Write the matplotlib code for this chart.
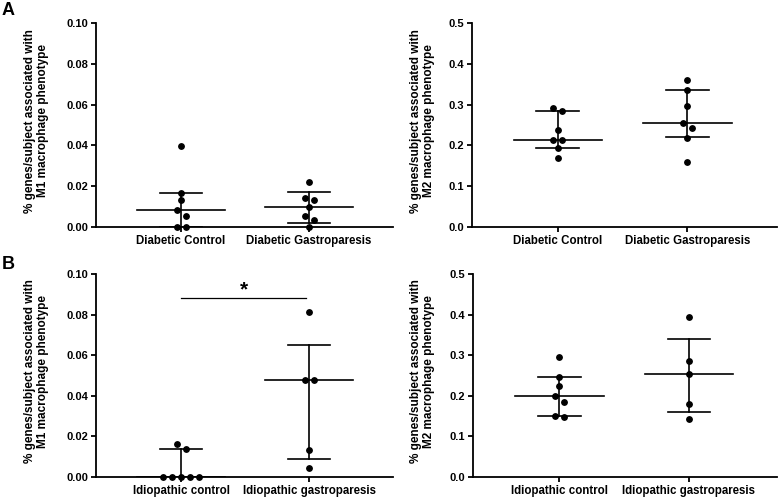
import numpy as np
import matplotlib.pyplot as plt

plt.rcParams['font.family'] = ['Liberation Sans', 'DejaVu Sans']
plt.rcParams['font.weight'] = 'bold'

groups_a = ['Diabetic Control', 'Diabetic Gastroparesis']
groups_b = ['Idiopathic control', 'Idiopathic gastroparesis']

# individual subjects
dc_m1 = [0.0396, 0.0167, 0.0134, 0.0082, 0.0052, 0.0, 0.0]
dg_m1 = [0.0221, 0.0141, 0.0131, 0.0098, 0.0052, 0.0033, 0.0]
dc_m2 = [0.2925, 0.2843, 0.2369, 0.2141, 0.2141, 0.1944, 0.1699]
dg_m2 = [0.3595, 0.3366, 0.2958, 0.2549, 0.2435, 0.2190, 0.1585]
ic_m1 = [0.0165, 0.0139, 0.0, 0.0, 0.0, 0.0, 0.0]
ig_m1 = [0.0813, 0.0480, 0.0480, 0.0131, 0.0046]
ic_m2 = [0.2946, 0.2455, 0.2234, 0.1989, 0.1850, 0.1514, 0.1473]
ig_m2 = [0.3944, 0.2864, 0.2537, 0.1800, 0.1424]

# centre line, lower and upper error bar as drawn
dc_m1_bar = [0.0082, 0.0, 0.0167]
dg_m1_bar = [0.0098, 0.0022, 0.0172]
dc_m2_bar = [0.2141, 0.1944, 0.2843]
dg_m2_bar = [0.2557, 0.2206, 0.3366]
ic_m1_bar = [0.0, 0.0, 0.0139]
ig_m1_bar = [0.0476, 0.0090, 0.0648]
ic_m2_bar = [0.1997, 0.1514, 0.2455]
ig_m2_bar = [0.2545, 0.1612, 0.3396]

m1_ticks = [0, 0.02, 0.04, 0.06, 0.08, 0.10]
m2_ticks = [0, 0.1, 0.2, 0.3, 0.4, 0.5]
sig_level = 0.088

fig = plt.figure(figsize=(7.78, 4.97), dpi=100)
W, H = 778, 497


def swarm_offsets(ax, vals):
    # group close points into rows and spread each row around the centre
    fig.canvas.draw()
    bb = ax.get_window_extent()
    py = bb.height / np.diff(ax.get_ylim())[0]
    px = bb.width / np.diff(ax.get_xlim())[0]
    d = 9.0
    order = np.argsort(vals)[::-1]
    rows = []
    for i in order:
        if rows and (vals[rows[-1][0]] - vals[i]) * py < 0.7 * d:
            rows[-1].append(i)
        else:
            rows.append([i])
    off = np.zeros(len(vals))
    for r in rows:
        n = len(r)
        for k, i in enumerate(sorted(r)):
            off[i] = (k - (n - 1) / 2) * d / px
    return off


def panel(box, names, data, bars, ticks, fmt, ylab, xlim, labx):
    l, r, top, bot = box
    ax = fig.add_axes([l / W, 1 - bot / H, (r - l) / W, (bot - top) / H])
    ax.set_xlim(*xlim)
    ax.set_ylim(ticks[0], ticks[-1])
    for s in ['top', 'right']:
        ax.spines[s].set_visible(False)
    for s in ['left', 'bottom']:
        ax.spines[s].set_linewidth(1.3)
    ax.set_yticks(ticks)
    ax.set_yticklabels([fmt.format(t) for t in ticks], fontsize=8, fontweight='bold')
    ax.set_xticks(range(len(names)))
    ax.set_xticklabels(names, fontsize=8.3, fontweight='bold')
    ax.tick_params(width=1.3, length=3.5, pad=2)
    ax.tick_params(axis='x', pad=2)
    ax.set_ylabel(ylab, fontsize=8.5, fontweight='bold', linespacing=1.1)
    ax.yaxis.set_label_coords((labx - l) / (r - l), 0.52)
    for x0, (vals, b) in enumerate(zip(data, bars)):
        vals = np.array(vals)
        off = swarm_offsets(ax, vals)
        ax.plot(x0 + off, vals, 'o', color='black', markersize=3.9,
                clip_on=False, zorder=3)
        ax.plot([x0 - 0.34, x0 + 0.34], [b[0], b[0]], color='black', lw=1.2)
        ax.plot([x0 - 0.165, x0 + 0.165], [b[1], b[1]], color='black', lw=1.2)
        ax.plot([x0 - 0.165, x0 + 0.165], [b[2], b[2]], color='black', lw=1.2)
        ax.plot([x0, x0], [b[1], b[2]], color='black', lw=1.2)
    return ax


lab1 = '% genes/subject associated with\nM1 macrophage phenotype'
lab2 = '% genes/subject associated with\nM2 macrophage phenotype'

panel((96, 393, 23, 227), groups_a, [dc_m1, dg_m1], [dc_m1_bar, dg_m1_bar],
      m1_ticks, '{:.2f}', lab1, (-0.664, 1.656), 49)
panel((472, 777, 23, 227), groups_a, [dc_m2, dg_m2], [dc_m2_bar, dg_m2_bar],
      m2_ticks, '{:.1f}', lab2, (-0.66, 1.69), 435)
axb = panel((96, 393, 274, 477), groups_b, [ic_m1, ig_m1], [ic_m1_bar, ig_m1_bar],
            m1_ticks, '{:.2f}', lab1, (-0.664, 1.656), 49)
panel((473, 777, 274, 477), groups_b, [ic_m2, ig_m2], [ic_m2_bar, ig_m2_bar],
      m2_ticks, '{:.1f}', lab2, (-0.668, 1.68), 435)

# significance bar
axb.plot([0, 0.98], [sig_level, sig_level], color='black', lw=0.9)
axb.text(0.49, sig_level - 0.0005, '*', ha='center', va='bottom', fontsize=15,
         fontweight='bold')

fig.text(2 / W, 1 - 2 / H, 'A', fontsize=13, fontweight='bold', va='top')
fig.text(2 / W, 1 - 256 / H, 'B', fontsize=13, fontweight='bold', va='top')

fig.savefig('out.png', dpi=100)
